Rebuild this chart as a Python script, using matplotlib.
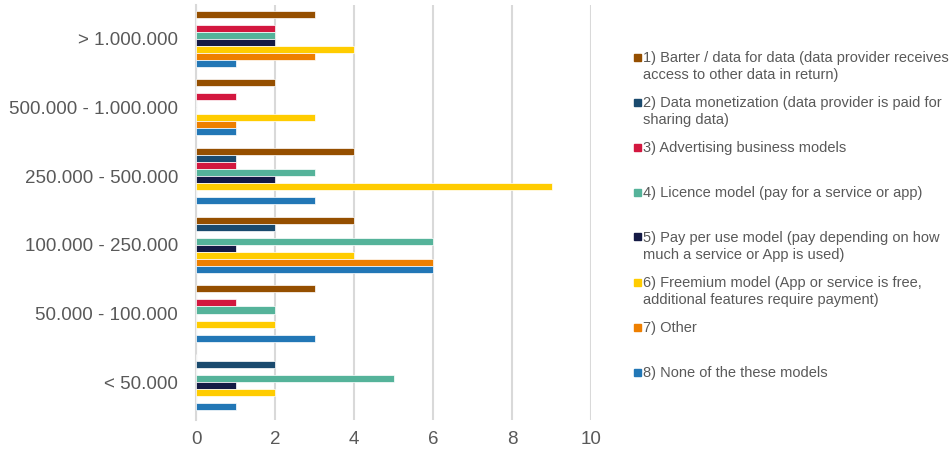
import matplotlib.pyplot as plt
from matplotlib.patches import Rectangle
import numpy as np

plt.rcParams['font.family'] = ['Liberation Sans', 'DejaVu Sans']

categories = ['< 50.000', '50.000 - 100.000', '100.000 - 250.000',
              '250.000 - 500.000', '500.000 - 1.000.000', '> 1.000.000']

series_labels = [
    '1) Barter / data for data (data provider receives\naccess to other data in return)',
    '2) Data monetization (data provider is paid for\nsharing data)',
    '3) Advertising business models',
    '4) Licence model (pay for a service or app)',
    '5) Pay per use model (pay depending on how\nmuch a service or App is used)',
    '6) Freemium model (App or service is free,\nadditional features require payment)',
    '7) Other',
    '8) None of the these models',
]

# counts per category, ordered like `categories`
barter = [0, 3, 4, 4, 2, 3]
monetization = [2, 0, 2, 1, 0, 0]
advertising = [0, 1, 0, 1, 1, 2]
licence = [5, 2, 6, 3, 0, 2]
pay_per_use = [1, 0, 1, 2, 0, 2]
freemium = [2, 2, 4, 9, 3, 4]
other = [0, 0, 6, 0, 1, 3]
none_of_these = [1, 3, 6, 3, 1, 1]

values = [barter, monetization, advertising, licence,
          pay_per_use, freemium, other, none_of_these]
colors = ['#954F00', '#1A4A6E', '#D3173F', '#55B39A',
          '#151A45', '#FFCC00', '#EE7F00', '#2277B6']

text_grey = '#595959'
grid_grey = '#D9D9D9'

fig = plt.figure(figsize=(9.52, 4.54), dpi=100)
ax = fig.add_axes([196 / 952, 1 - 420 / 454, 395 / 952, 415 / 454])

h = 0.102
y = np.arange(len(categories))
for i, (vals, col) in enumerate(zip(values, colors)):
    ax.barh(y + (3.5 - i) * h, vals, height=h, color=col,
            edgecolor='white', linewidth=0.5, zorder=3)

ax.set_xlim(0, 10)
ax.set_ylim(-0.55, 5.49)
ax.set_xticks(range(0, 11, 2))
ax.set_yticks(y)
ax.set_yticklabels(categories)
ax.tick_params(axis='both', length=0, labelsize=13.5, labelcolor=text_grey)
ax.tick_params(axis='y', pad=13)
ax.tick_params(axis='x', pad=8)
ax.grid(axis='x', color=grid_grey, linewidth=1.5, zorder=0)
for side in ['top', 'right', 'bottom']:
    ax.spines[side].set_visible(False)
ax.spines['left'].set_color(grid_grey)
ax.spines['left'].set_linewidth(1.5)

# legend drawn by hand so the swatch sits on the first text line
for i, (lab, col) in enumerate(zip(series_labels, colors)):
    ypix = 57 + 45 * i
    fy = 1 - ypix / 454
    fig.patches.append(Rectangle((634 / 952, fy - 3.5 / 454), 7 / 952, 7 / 454,
                                 transform=fig.transFigure, color=col))
    fig.text(643 / 952, fy + 6 / 454, lab, fontsize=10.5, color=text_grey,
             va='top', ha='left', linespacing=1.3)

fig.savefig('out.png', dpi=100)
